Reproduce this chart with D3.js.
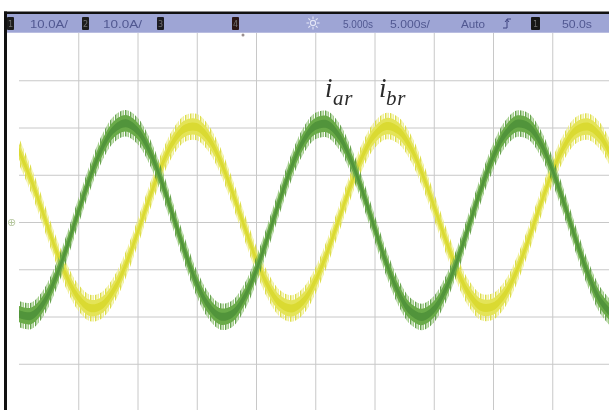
<!DOCTYPE html>
<html><head><meta charset="utf-8">
<script src="https://cdn.jsdelivr.net/npm/d3@7"></script>
<style>html,body{margin:0;padding:0;background:#fff;overflow:hidden;} svg{display:block;}</style>
</head><body>
<svg id="chart" width="609" height="410"></svg>
<script>
// ---- data ----
const timeMs = [0,1,2,3,4,5,6,7,8,9,10,11,12,13,14,15,16,17,18,19,20,21,22,23,24,25,26,27,28,29,30,31,32,33,34,35,36,37,38,39,40,41,42,43,44,45,46,47,48,49,50];
// phase current i_ar (green), amperes
const iAr = [-19.5,-19.9,-17.4,-12.4,-5.6,2.1,9.5,15.6,19.6,20.9,19.3,15.1,8.8,1.3,-6.3,-13.0,-17.7,-20.0,-19.4,-16.0,-10.3,-3.1,4.6,11.7,17.2,20.3,20.7,18.2,13.2,6.4,-1.2,-8.7,-14.8,-18.8,-20.1,-18.5,-14.3,-8.0,-0.5,7.1,13.7,18.5,20.8,20.2,16.8,11.1,3.9,-3.8,-10.9,-16.4,-19.5];
// phase current i_br (yellow), amperes
const iBr = [15.0,9.1,2.1,-5.1,-11.4,-16.0,-18.2,-17.6,-14.4,-9.1,-2.3,5.0,11.7,16.9,19.8,20.1,17.7,12.9,6.4,-0.8,-7.8,-13.5,-17.2,-18.3,-16.7,-12.5,-6.5,0.6,7.8,14.0,18.4,20.3,19.4,16.0,10.4,3.5,-3.7,-10.3,-15.3,-18.0,-17.9,-15.3,-10.3,-3.7,3.6,10.5,16.0,19.4,20.2,18.3,14.0];
const rippleA = 2.8;          // peak switching ripple, A
const timeGrid = [5,10,15,20,25,30,35,40,45];     // ms, 5 ms/div
const currentGrid = [-30,-20,-10,0,10,20,30];     // A, 10 A/div
const seriesNames = ["ar","br"];
const statusTexts = ["10.0A/","10.0A/","5.000s","5.000s/","Auto","50.0s"];
const channelIds = ["1","2","3","4","1"];

// ---- layout ----
const W = 609, H = 410;
const svg = d3.select("#chart");
svg.append("rect").attr("width", W).attr("height", H).attr("fill", "#fff");

const x = d3.scaleLinear().domain([0, 50]).range([19, 611.5]);
const y = d3.scaleLinear().domain([-40, 40]).range([411, 33]);

const defs = svg.append("defs");
defs.append("clipPath").attr("id", "plotclip").append("rect")
  .attr("x", 7).attr("y", 33).attr("width", W - 7).attr("height", H - 33);
const blur = defs.append("filter").attr("id", "soft").attr("x", "-5%").attr("y", "-5%").attr("width", "110%").attr("height", "110%");
blur.append("feGaussianBlur").attr("stdDeviation", 0.7);
const blur2 = defs.append("filter").attr("id", "soft2");
blur2.append("feGaussianBlur").attr("stdDeviation", 0.35);

function stripe(id, c1, c2) {
  const p = defs.append("pattern").attr("id", id).attr("patternUnits", "userSpaceOnUse")
    .attr("width", 5).attr("height", 6);
  p.append("rect").attr("x", 0).attr("width", 1.5).attr("height", 6).attr("fill", c1);
  p.append("rect").attr("x", 2.5).attr("width", 1.3).attr("height", 6).attr("fill", c2);
}
stripe("gstripe", "#57993a", "#7fbb5c");
stripe("ystripe", "#dada36", "#ebeb72");

// grid
const gx = svg.append("g").attr("transform", "translate(0,33)")
  .call(d3.axisBottom(x).tickValues(timeGrid).tickSize(378).tickFormat(""));
const gy = svg.append("g").attr("transform", "translate(19,0)")
  .call(d3.axisRight(y).tickValues(currentGrid).tickSize(592).tickFormat(""));
[gx, gy].forEach(g => {
  g.select(".domain").remove();
  g.selectAll("line").attr("stroke", "#c8c8c8").attr("stroke-width", 1);
});

// ground marker
svg.append("text").attr("x", 7).attr("y", 226).attr("font-family", "DejaVu Sans")
  .attr("font-size", 11).attr("fill", "#b5c69e").attr("filter", "url(#soft2)").text("⊕");

// waveforms
const plot = svg.append("g").attr("clip-path", "url(#plotclip)");
const wave = plot.append("g").attr("filter", "url(#soft)");
const series = [
  {key: "br", vals: iBr, fringe: "url(#ystripe)", core: "#dada30", mid: "#e4e458"},
  {key: "ar", vals: iAr, fringe: "url(#gstripe)", core: "#51943a", mid: "#6aab48"}
];
series.forEach(s => {
  const pts = timeMs.map((t, i) => ({t, v: s.vals[i]}));
  const band = k => d3.area().curve(d3.curveCatmullRom)
    .x(d => x(d.t)).y0(d => y(d.v - rippleA * k)).y1(d => y(d.v + rippleA * k));
  wave.append("path").datum(pts).attr("d", band(1)).attr("fill", s.fringe).attr("opacity", 0.9);
  wave.append("path").datum(pts).attr("d", band(0.62)).attr("fill", s.mid);
  wave.append("path").datum(pts).attr("d", band(0.3)).attr("fill", s.core);
});

// labels i_ar, i_br
const labelPos = [{ix: 325, sx: 333}, {ix: 379, sx: 386}];
seriesNames.forEach((n, k) => {
  const lp = labelPos[k];
  const g = svg.append("g").attr("fill", "#2b2b2b").attr("font-family", "Liberation Serif").attr("font-style", "italic").attr("filter", "url(#soft2)");
  g.append("text").attr("x", lp.ix).attr("y", 97).attr("font-size", 27).text("i");
  g.append("text").attr("x", lp.sx).attr("y", 105).attr("font-size", 21)
    .attr("letter-spacing", 0.8).text(n);
});

// top status bar and frame
svg.append("rect").attr("x", 4).attr("y", 14).attr("width", W - 4).attr("height", 19).attr("fill", "#9ea5d5");
svg.append("rect").attr("x", 4).attr("y", 32).attr("width", W - 4).attr("height", 1).attr("fill", "#b9bde0");
svg.append("rect").attr("x", 4).attr("y", 11.5).attr("width", W - 4).attr("height", 2.5).attr("fill", "#111");
svg.append("rect").attr("x", 4).attr("y", 11.5).attr("width", 3).attr("height", H - 11).attr("fill", "#111");

const bar = svg.append("g").attr("filter", "url(#soft2)");
const boxPos = [{x: 7, c: "#1e1e1e"}, {x: 82, c: "#1e1e1e"}, {x: 157, c: "#1f1a22"}, {x: 232, c: "#2a1616"}, {x: 531, c: "#141414"}];
channelIds.forEach((id, i) => {
  const b = boxPos[i];
  bar.append("rect").attr("x", b.x).attr("y", 17).attr("width", i === 4 ? 9 : 7).attr("height", 13).attr("rx", 1).attr("fill", b.c);
  bar.append("text").attr("x", b.x + (i === 4 ? 4.5 : 3.5)).attr("y", 27).attr("text-anchor", "middle")
    .attr("font-family", "DejaVu Sans").attr("font-size", 8).attr("fill", "#6f6f6f").text(id);
});
bar.append("circle").attr("cx", 243).attr("cy", 35).attr("r", 1.5).attr("fill", "#9a8f8f");

const textPos = [{x: 30, w: 38}, {x: 103, w: 39}, {x: 343, w: 30}, {x: 390, w: 40}, {x: 461, w: 24}, {x: 562, w: 30}];
statusTexts.forEach((t, i) => {
  bar.append("text").attr("x", textPos[i].x).attr("y", 27.5)
    .attr("font-family", "Liberation Sans").attr("font-size", 10.5).attr("fill", "#515891")
    .attr("textLength", textPos[i].w).attr("lengthAdjust", "spacingAndGlyphs").text(t);
});
// trigger (sun) icon
const sun = bar.append("g").attr("transform", "translate(313,23)").attr("stroke", "#e4e6f6").attr("stroke-width", 1.1).attr("fill", "none");
sun.append("circle").attr("r", 2.6);
[0, 45, 90, 135, 180, 225, 270, 315].forEach(a => {
  const r = a * Math.PI / 180;
  sun.append("line").attr("x1", 4 * Math.cos(r)).attr("y1", 4 * Math.sin(r)).attr("x2", 6.5 * Math.cos(r)).attr("y2", 6.5 * Math.sin(r));
});
// trigger slope icon
bar.append("path").attr("d", "M503,28 L507,28 L507,19 L511,19 M505,22 L507,19.5 L509,22")
  .attr("stroke", "#3f4580").attr("stroke-width", 1).attr("fill", "none");
</script>
</body></html>
